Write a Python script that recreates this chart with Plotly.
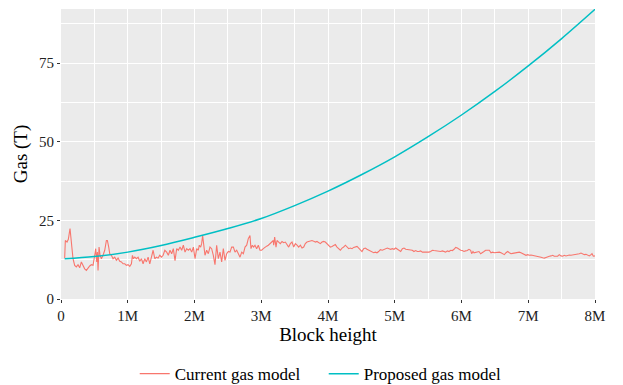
import plotly.graph_objects as go

# Current gas model (block height in millions, gas in T)
current_x = [0.055, 0.065, 0.09, 0.11, 0.135, 0.155, 0.18, 0.205, 0.23, 0.255, 0.28, 0.305, 0.33, 0.355,
             0.38, 0.405, 0.43, 0.455, 0.48, 0.505, 0.52, 0.535, 0.545, 0.555, 0.57, 0.585, 0.605, 0.63,
             0.655, 0.68, 0.695, 0.715, 0.73, 0.755, 0.78, 0.805, 0.83, 0.855, 0.88, 0.905, 0.93, 0.955,
             0.98, 1.005, 1.03, 1.055, 1.07, 1.085, 1.105, 1.13, 1.155, 1.18, 1.205, 1.23, 1.255, 1.28,
             1.305, 1.33, 1.355, 1.38, 1.405, 1.43, 1.455, 1.48, 1.505, 1.53, 1.555,
             1.583, 1.608, 1.633, 1.658, 1.683, 1.708, 1.733, 1.758, 1.783, 1.808, 1.833, 1.858, 1.883,
             1.908, 1.933, 1.958, 1.983, 2.008, 2.033, 2.057, 2.072, 2.092, 2.107, 2.122, 2.142, 2.157,
             2.182, 2.207, 2.232, 2.257, 2.282, 2.307, 2.332, 2.357, 2.382, 2.407, 2.432, 2.457, 2.482,
             2.507, 2.532, 2.557, 2.582, 2.607, 2.632, 2.657, 2.682, 2.707, 2.732, 2.757, 2.782, 2.806,
             2.831, 2.846, 2.866, 2.886, 2.906, 2.931, 2.956, 2.981, 3.006, 3.031, 3.056, 3.081, 3.106,
             3.131, 3.156, 3.181,
             3.186, 3.201, 3.221, 3.236, 3.261, 3.286, 3.311, 3.336, 3.361, 3.386, 3.411, 3.436, 3.461,
             3.486, 3.511, 3.536, 3.561, 3.586, 3.611, 3.636, 3.660, 3.685, 3.710, 3.735, 3.760, 3.785,
             3.810, 3.835, 3.860, 3.885, 3.910, 3.935, 3.960, 3.985, 4.010, 4.035, 4.060, 4.085, 4.110,
             4.135, 4.160, 4.185, 4.210, 4.235, 4.260, 4.285, 4.310, 4.335, 4.360, 4.385, 4.410, 4.435,
             4.460, 4.485, 4.509, 4.534, 4.559, 4.584, 4.609, 4.634, 4.659, 4.684, 4.709, 4.734, 4.759,
             4.784,
             4.814, 4.839, 4.864, 4.889, 4.914, 4.939, 4.964, 4.989, 5.014, 5.039, 5.064, 5.089, 5.114,
             5.139, 5.164, 5.189, 5.213, 5.238, 5.263, 5.288, 5.313, 5.338, 5.363, 5.388, 5.413, 5.438,
             5.463, 5.488, 5.513, 5.538, 5.563, 5.588, 5.613, 5.638, 5.663, 5.688, 5.713, 5.738, 5.763,
             5.788, 5.813, 5.838, 5.863, 5.888, 5.913, 5.938, 5.963, 5.988, 6.012, 6.037, 6.062, 6.087,
             6.112, 6.137, 6.152, 6.172, 6.187, 6.212, 6.237, 6.262, 6.287, 6.312, 6.337, 6.362,
             6.392, 6.417, 6.442, 6.467, 6.492, 6.517, 6.542, 6.567, 6.592, 6.617, 6.642, 6.667, 6.692,
             6.717, 6.742, 6.767, 6.792, 6.816, 6.841, 6.866, 6.891, 6.916, 6.941, 6.966, 6.991, 7.016,
             7.041, 7.066, 7.091, 7.116, 7.141, 7.166, 7.191, 7.216, 7.241, 7.266, 7.291, 7.316, 7.341,
             7.366, 7.390, 7.415, 7.440, 7.465, 7.490, 7.515, 7.540, 7.565, 7.590, 7.615, 7.640, 7.665,
             7.690, 7.715, 7.740, 7.765, 7.790, 7.815, 7.840, 7.865, 7.890, 7.915, 7.940, 7.955, 7.975,
             8.0]
current_gas = [13.0, 18.6, 18.1, 19.0, 22.4, 17.6, 12.8, 10.7, 10.2, 10.9, 9.9, 11.8, 10.5, 9.6,
               9.1, 9.9, 10.5, 10.9, 10.7, 13.9, 16.0, 11.8, 14.9, 9.1, 16.5, 13.9, 12.8, 13.9,
               15.5, 18.6, 18.6, 16.5, 14.4, 13.9, 12.8, 13.3, 12.3, 13.0, 12.0, 11.8, 11.2, 11.2,
               10.7, 10.9, 10.4, 11.2, 13.9, 12.8, 13.3, 12.8, 13.3, 12.0, 12.8, 11.2, 12.8, 11.8,
               13.3, 11.2, 13.9, 15.5, 12.8, 13.3, 13.0, 13.9, 13.3, 13.9, 15.5,
               14.9, 13.9, 15.5, 14.4, 16.0, 12.2, 16.0, 15.5, 16.5, 15.5, 17.1, 14.9, 16.0,
               15.5, 16.0, 14.9, 16.5, 12.8, 16.0, 15.5, 17.1, 16.5, 17.6, 20.2, 16.0, 13.9,
               15.5, 14.4, 16.5, 16.0, 13.9, 10.9, 17.1, 12.8, 14.9, 11.8, 16.0, 12.3, 14.4,
               15.1, 14.9, 16.5, 16.5, 14.9, 15.5, 14.4, 13.3, 14.9, 14.4, 16.5, 17.1, 19.2,
               20.2, 16.0, 17.1, 16.5, 17.1, 16.0, 17.1, 15.5, 15.5, 16.0, 16.5, 16.8, 17.1,
               17.6, 18.1, 18.6,
               17.1, 19.7, 16.5, 18.6, 18.1, 17.6, 18.3, 17.9, 18.1, 17.1, 16.5, 17.6, 18.1,
               16.5, 17.6, 17.1, 16.5, 17.1, 16.2, 16.5, 17.6, 18.1, 18.3, 18.4, 18.6, 18.4,
               18.1, 18.3, 17.9, 17.6, 18.1, 18.3, 18.1, 17.6, 16.8, 16.5, 16.7, 17.1, 17.3,
               16.5, 16.0, 15.5, 16.2, 16.5, 17.1, 16.5, 16.0, 16.2, 16.0, 16.4, 16.6, 16.7,
               16.2, 15.5, 15.1, 16.0, 16.2, 15.8, 15.5, 15.1, 14.9, 14.7, 14.9, 14.7, 15.1,
               15.7,
               15.5, 15.8, 16.0, 16.2, 16.0, 15.8, 16.0, 15.8, 16.2, 15.8, 15.5, 15.1, 16.0,
               16.2, 15.8, 15.8, 15.7, 15.6, 15.5, 15.1, 15.4, 15.1, 15.1, 15.3, 14.9, 14.9,
               14.8, 14.9, 14.9, 15.1, 15.5, 15.4, 15.3, 15.4, 15.3, 15.1, 15.3, 15.1, 14.9,
               15.3, 15.1, 15.5, 15.4, 15.8, 16.4, 16.2, 15.8, 15.5, 15.4, 15.1, 15.3, 15.4,
               15.8, 15.5, 14.4, 15.1, 14.7, 14.9, 14.9, 15.1, 14.4, 14.9, 15.1, 15.5,
               15.6, 15.5, 14.7, 14.9, 14.7, 14.8, 14.7, 14.9, 14.7, 14.4, 14.1, 14.7, 15.1,
               14.7, 14.4, 14.5, 14.6, 14.6, 14.7, 14.9, 14.7, 14.4, 14.1, 13.9, 14.1, 13.9,
               14.0, 13.9, 13.7, 13.6, 13.7, 13.6, 13.3, 13.1, 13.0, 13.2, 13.5, 13.6, 13.7,
               13.9, 13.6, 13.5, 13.6, 14.1, 13.7, 13.6, 13.9, 13.7, 13.9, 14.0, 13.9, 14.0,
               14.1, 14.0, 14.2, 14.4, 14.6, 14.4, 14.1, 14.2, 13.9, 13.7, 14.1, 14.4, 13.6,
               13.7]

# Proposed gas model
proposed_x = [0.055, 0.5, 1.0, 1.5, 2.0, 2.5, 3.0, 3.5, 4.0, 4.5, 5.0, 5.5, 6.0, 6.5, 7.0, 7.5, 8.0]
proposed_gas = [12.8, 13.5, 14.9, 17.0, 19.6, 22.4, 25.6, 29.7, 34.3, 39.5, 45.2, 51.6, 58.5, 66.0, 74.1, 82.8, 92.1]

x_tickvals = [0, 1, 2, 3, 4, 5, 6, 7, 8]
x_ticktext = ["0", "1M", "2M", "3M", "4M", "5M", "6M", "7M", "8M"]
y_tickvals = [0, 25, 50, 75]

FONT = "Liberation Serif"

fig = go.Figure()
fig.add_trace(go.Scatter(x=current_x, y=current_gas, mode="lines", name="Current gas model",
                         line=dict(color="#F8766D", width=1.1)))
fig.add_trace(go.Scatter(x=proposed_x, y=proposed_gas, mode="lines", name="Proposed gas model",
                         line=dict(color="#00BFC4", width=1.5, shape="spline")))

fig.update_layout(
    width=623, height=385,
    margin=dict(l=61, r=28, t=9, b=86, autoexpand=False),
    paper_bgcolor="white",
    plot_bgcolor="#EBEBEB",
    font=dict(family=FONT, color="#000000", size=15),
    showlegend=True,
    legend=dict(orientation="h", x=0.492, xanchor="center", y=-0.259, yanchor="middle",
                font=dict(family=FONT, size=17, color="#000000"), itemwidth=30,
                entrywidth=144, bgcolor="rgba(0,0,0,0)"),
)
fig.update_xaxes(
    range=[0, 8], tickvals=x_tickvals, ticktext=x_ticktext,
    showgrid=True, gridcolor="white", gridwidth=1.1,
    minor=dict(dtick=0.5, showgrid=True, gridcolor="white", gridwidth=0.5),
    ticks="outside", ticklen=3, tickcolor="#333333", tickwidth=1,
    tickfont=dict(family=FONT, size=15, color="#222222"),
    zeroline=False, showline=False, automargin=False,
    title=dict(text="Block height", font=dict(family=FONT, size=19, color="#000000"), standoff=2),
)
fig.update_yaxes(
    range=[0, 92.2], tickvals=y_tickvals,
    showgrid=True, gridcolor="white", gridwidth=1.1,
    minor=dict(dtick=12.5, showgrid=True, gridcolor="white", gridwidth=0.5),
    ticks="outside", ticklen=3, tickcolor="#333333", tickwidth=1,
    tickfont=dict(family=FONT, size=15, color="#222222"),
    zeroline=False, showline=False, automargin=False,
    title=dict(text="Gas (T)", font=dict(family=FONT, size=19, color="#000000"), standoff=6),
)

fig.write_html("out.html")
